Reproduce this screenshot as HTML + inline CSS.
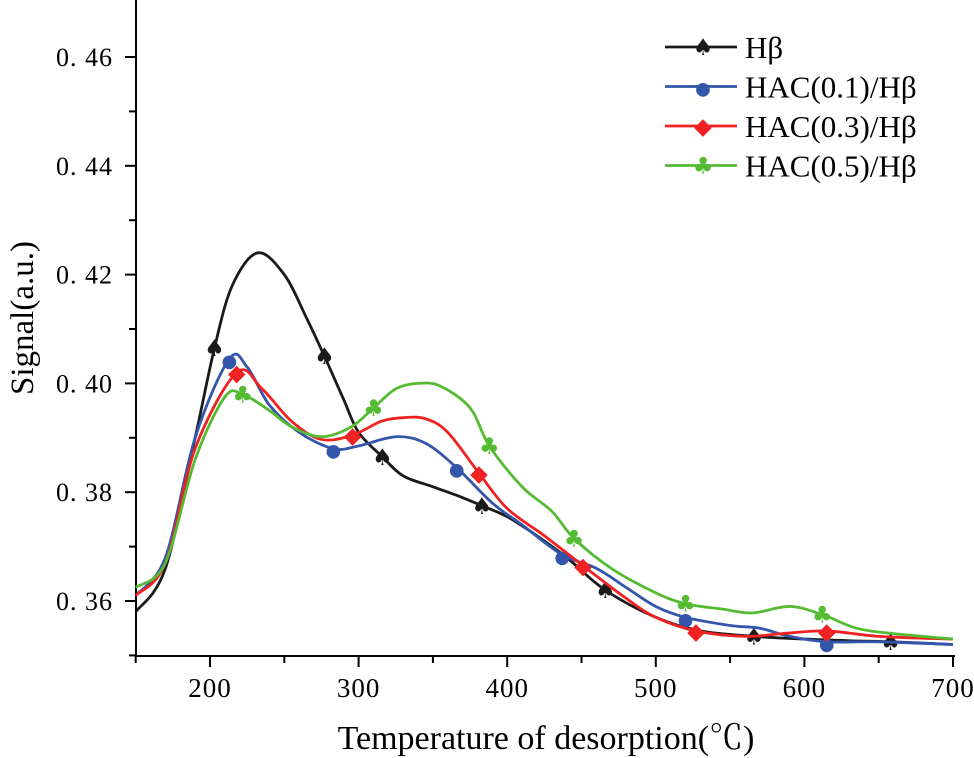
<!DOCTYPE html>
<html><head><meta charset="utf-8"><style>
body{margin:0;background:#fff}
svg{display:block;font-family:"Liberation Serif","Noto Serif CJK SC",serif}
</style></head><body>
<svg id="chart" width="974" height="758" viewBox="0 0 974 758"></svg>
<script>
const xTicks=[200,300,400,500,600,700];
const yTicks=[0.36,0.38,0.40,0.42,0.44,0.46];
const yTickLabels=["0. 36","0. 38","0. 40","0. 42","0. 44","0. 46"];
const seriesNames=["Hβ","HAC(0.1)/Hβ","HAC(0.3)/Hβ","HAC(0.5)/Hβ"];
const hbX=[150,170,190,203,215,232,250,265,277,290,300,316,330,350,370,383,400,420,440,466,500,530,566,600,630,658,700];
const hbY=[0.358,0.366,0.39,0.4065,0.418,0.424,0.420,0.412,0.405,0.397,0.391,0.3865,0.383,0.381,0.379,0.3775,0.3755,0.372,0.368,0.362,0.357,0.3545,0.3535,0.353,0.3527,0.3525,0.352];
const hbM=[203,277,316,383,466,566,658];
const h1X=[150,170,190,213,225,240,260,283,300,325,345,366,390,410,437,460,480,500,520,550,570,590,615,650,700];
const h1Y=[0.361,0.368,0.39,0.4045,0.403,0.396,0.391,0.388,0.3885,0.3902,0.389,0.3845,0.378,0.374,0.3685,0.366,0.3625,0.359,0.357,0.3555,0.355,0.3535,0.3525,0.3525,0.352];
const h1M=[213,283,366,437,520,615];
const h3X=[150,170,190,218,235,255,275,296,315,330,345,360,381,400,425,451,480,500,527,560,585,615,650,700];
const h3Y=[0.361,0.367,0.388,0.402,0.399,0.393,0.3897,0.3905,0.393,0.3937,0.3935,0.391,0.3835,0.377,0.372,0.3665,0.3605,0.357,0.3545,0.3535,0.354,0.3545,0.3535,0.353];
const h3M=[218,296,381,451,527,615];
const h5X=[150,170,190,210,222,240,255,275,295,310,325,340,355,375,388,410,430,445,470,500,520,545,565,590,612,635,660,700];
const h5Y=[0.3625,0.367,0.386,0.3975,0.398,0.395,0.392,0.3902,0.392,0.3955,0.399,0.400,0.3995,0.3955,0.3885,0.381,0.3765,0.3715,0.366,0.3615,0.3595,0.3585,0.3578,0.359,0.3575,0.355,0.354,0.353];
const h5M=[222,310,388,445,520,612];

const svg=document.getElementById('chart');const NS='http://www.w3.org/2000/svg';
const X=v=>210+(v-200)*1.486;
const Y=v=>57+(0.46-v)*5440;
function el(t,a,p){const e=document.createElementNS(NS,t);for(const k in a)e.setAttribute(k,a[k]);(p||svg).appendChild(e);return e;}
function interp(xs,ys,x){for(let i=0;i<xs.length-1;i++){if(x>=xs[i]&&x<=xs[i+1]){const t=(x-xs[i])/(xs[i+1]-xs[i]);return ys[i]+t*(ys[i+1]-ys[i]);}}return ys[ys.length-1];}
function pathD(xs,ys){const p=xs.map((x,i)=>[X(x),Y(ys[i])]);let d='M'+p[0][0]+','+p[0][1];
for(let i=0;i<p.length-1;i++){const p0=p[i-1]||p[i],p1=p[i],p2=p[i+1],p3=p[i+2]||p2;
d+=' C'+(p1[0]+(p2[0]-p0[0])/6)+','+(p1[1]+(p2[1]-p0[1])/6)+' '+(p2[0]-(p3[0]-p1[0])/6)+','+(p2[1]-(p3[1]-p1[1])/6)+' '+p2[0]+','+p2[1];}return d;}
let a=el('line',{x1:136,y1:0,x2:136,y2:657,stroke:'#000','stroke-width':2});

a=el('line',{x1:135,y1:656,x2:955,y2:656,stroke:'#000','stroke-width':2});

for(let v=150;v<=700;v+=50){const maj=v%100===0;const t=el('line',{x1:X(v),x2:X(v),y1:656,y2:maj?667:663,stroke:'#000','stroke-width':2});
}
xTicks.forEach(v=>{const t=el('text',{x:X(v),y:697,'font-size':27,'text-anchor':'middle','letter-spacing':1});t.textContent=v;
});
for(let k=0;k<12;k++){const v=0.35+k*0.01;const maj=k%2===1;const y=Y(v);if(y<2)continue;
const t=el('line',{x1:maj?125:129,x2:136,y1:y,y2:y,stroke:'#000','stroke-width':2});
}
yTicks.forEach((v,i)=>{const t=el('text',{x:113,y:Y(v)+9,'font-size':26,'text-anchor':'end','letter-spacing':1});t.textContent=yTickLabels[i];
});
let t=el('text',{x:546,y:749,'font-size':34,'text-anchor':'middle'});t.textContent='Temperature of desorption(℃)';

t=el('text',{x:0,y:0,'font-size':33,'text-anchor':'middle',transform:'translate(33,318) rotate(-90)'});t.textContent='Signal(a.u.)';

const S=[[hbX,hbY,hbM,'#1a1a1a','♠'],[h1X,h1Y,h1M,'#3355aa','●'],[h3X,h3Y,h3M,'#ee2222','◆'],[h5X,h5Y,h5M,'#55bb33','♣']];
const names=['series-hbeta','series-hac01','series-hac03','series-hac05'];
S.forEach((s,i)=>{const g=el('g',{});
el('path',{d:pathD(s[0],s[1]),fill:'none',stroke:s[3],'stroke-width':2.8},g);
s[2].forEach(x=>{const m=el('text',{x:X(x),y:Y(interp(s[0],s[1],x))+8,'font-size':i==1?18:23,'text-anchor':'middle',fill:s[3],'font-family':'DejaVu Sans'},g);m.textContent=s[4];
});
const ly=47+i*39.5;const lg=el('g',{});
el('line',{x1:665,x2:737,y1:ly,y2:ly,stroke:s[3],'stroke-width':2.8},lg);
el('text',{x:703,y:ly+8,'font-size':i==1?18:23,'text-anchor':'middle',fill:s[3],'font-family':'DejaVu Sans'},lg).textContent=s[4];
el('text',{x:745,y:ly+11,'font-size':31},lg).textContent=seriesNames[i];});
</script>
</body></html>
